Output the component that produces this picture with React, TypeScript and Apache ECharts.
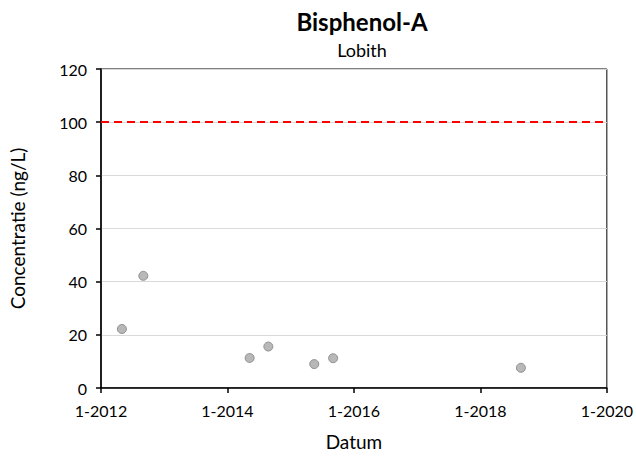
import React, { useEffect, useRef } from "react";
import * as echarts from "echarts";

const sampleDates = [
  "2012-05-01",
  "2012-09-02",
  "2014-05-09",
  "2014-08-25",
  "2015-05-17",
  "2015-09-03",
  "2018-08-23",
];
const concentrations = [22.2, 42.2, 11.3, 15.6, 9.0, 11.2, 7.6];
const limitValue = 100;
const yTicks = [0, 20, 40, 60, 80, 100, 120];
const xTickYears = [2012, 2014, 2016, 2018, 2020];

function toDecimalYear(s: string): number {
  const [y, m, d] = s.split("-").map(Number);
  const start = Date.UTC(y, 0, 1);
  const end = Date.UTC(y + 1, 0, 1);
  const t = Date.UTC(y, m - 1, d);
  return y + (t - start) / (end - start);
}

const FONT = "Lato";

export default function App() {
  const ref = useRef<HTMLDivElement>(null);
  useEffect(() => {
    if (!ref.current) return;
    const chart = echarts.init(ref.current, undefined, { renderer: "svg" });
    const points = sampleDates.map((d, i) => [toDecimalYear(d), concentrations[i]]);
    chart.setOption({
      animation: false,
      textStyle: { fontFamily: FONT },
      title: [
        {
          text: "Bisphenol-A",
          left: 357,
          top: 4,
          textAlign: "center",
          textStyle: { fontFamily: FONT, fontSize: 24, fontWeight: "bold", color: "#000" },
        },
        {
          text: "Lobith",
          left: 357,
          top: 36,
          textAlign: "center",
          textStyle: { fontFamily: FONT, fontSize: 18, fontWeight: "normal", color: "#000" },
        },
      ],
      grid: {
        left: 98,
        right: 23,
        top: 69,
        bottom: 72,
        show: true,
        borderColor: "#000",
        borderWidth: 1,
        containLabel: false,
      },
      xAxis: {
        type: "value",
        min: xTickYears[0],
        max: xTickYears[xTickYears.length - 1],
        interval: 2,
        name: "Datum",
        nameLocation: "middle",
        nameGap: 44,
        nameTextStyle: { fontFamily: FONT, fontSize: 19, color: "#000" },
        axisLine: { show: true, lineStyle: { color: "#000", width: 1.5 } },
        axisTick: { show: true, length: 5, lineStyle: { color: "#000", width: 1.5 } },
        axisLabel: {
          color: "#000",
          fontFamily: FONT,
          fontSize: 16,
          margin: 14,
          formatter: (v: number) => "1-" + Math.round(v),
        },
        splitLine: { show: false },
      },
      yAxis: {
        type: "value",
        min: yTicks[0],
        max: yTicks[yTicks.length - 1],
        interval: 20,
        name: "Concentratie (ng/L)",
        nameLocation: "middle",
        nameGap: 74,
        nameTextStyle: { fontFamily: FONT, fontSize: 19, color: "#000" },
        axisLine: { show: true, lineStyle: { color: "#000", width: 1.5 } },
        axisTick: { show: true, length: 5, lineStyle: { color: "#000", width: 1.5 } },
        axisLabel: { color: "#000", fontFamily: FONT, fontSize: 16, margin: 14 },
        splitLine: { show: true, lineStyle: { color: "#d9d9d9", width: 1 } },
      },
      series: [
        {
          type: "scatter",
          data: points,
          symbol: "circle",
          symbolSize: 9,
          itemStyle: { color: "#a6a6a6", borderColor: "#7f7f7f", borderWidth: 1 },
          markLine: {
            silent: true,
            symbol: "none",
            label: { show: false },
            lineStyle: { color: "#ff0000", type: [8, 5], width: 2 },
            data: [{ yAxis: limitValue }],
          },
        },
      ],
    });
    return () => chart.dispose();
  }, []);
  return (
    <div
      ref={ref}
      style={{ position: "absolute", left: 0, top: 0, width: 636, height: 460 }}
    />
  );
}
